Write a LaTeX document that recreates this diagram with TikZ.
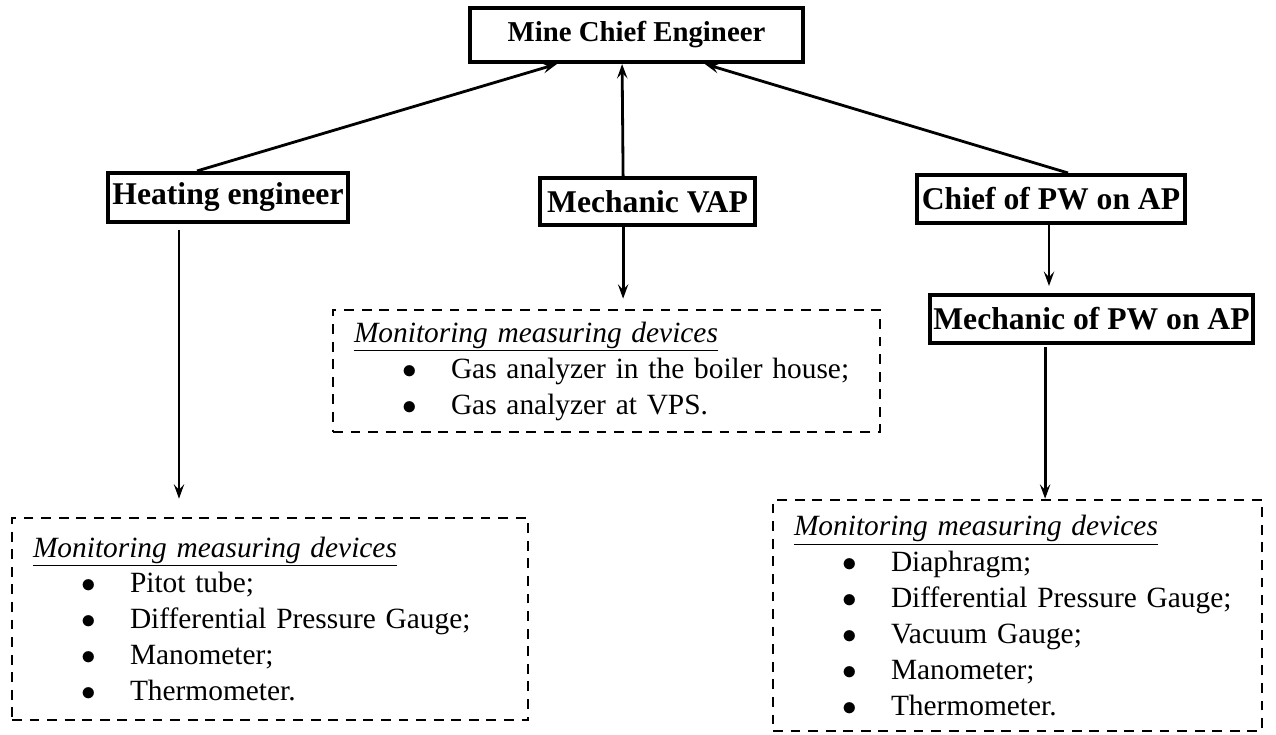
\documentclass[tikz,border=0pt]{standalone}
\usepackage{fontspec}
\setmainfont{Liberation Serif}
\usetikzlibrary{arrows.meta}

\tikzset{
  post/.style={draw,line width=2.9pt,inner sep=0pt,
    font=\fontsize{22.5}{26}\selectfont\bfseries},
  devices/.style={draw,line width=1.9pt,dash pattern=on 7pt off 5.5pt,
    align=left,inner xsep=0.525cm,inner ysep=0pt,
    font=\fontsize{20.9}{25.6}\selectfont},
  link/.style={->,line width=2pt}
}
\newcommand{\devhead}{\underline{\textit{Monitoring measuring devices}}}
\newcommand{\devitem}[1]{\\\hspace*{1.22cm}\makebox[1.205cm][l]{$\bullet$}#1}

\begin{document}
\begin{tikzpicture}[>={Stealth[length=3.6mm,width=2.6mm,inset=1.4mm]}]
  \useasboundingbox (0,0) rectangle (31.9,18.35);
  % posts
  \node[post,minimum width=8.325cm,minimum height=1.35cm,font=\fontsize{20.5}{24}\selectfont\bfseries]
    (boss) at (15.9125,17.475) {Mine Chief Engineer};
  \node[post,minimum width=6cm,minimum height=1.225cm] (heat) at (5.7,13.4125) {Heating engineer};
  \node[post,minimum width=5.375cm,minimum height=1.175cm] (vap) at (16.1875,13.3125) {Mechanic VAP};
  \node[post,minimum width=6.7cm,minimum height=1.2cm] (pwchief) at (26.275,13.375) {Chief of PW on AP};
  \node[post,minimum width=8.075cm,minimum height=1.2cm] (pwmech) at (27.2875,10.375) {Mechanic of PW on AP};

  % lists of devices
  \node[devices,text width=12.625cm,minimum height=3.05cm] (devvap) at (15.1625,9.075)
    {\devhead\devitem{Gas analyzer in the boiler house;}\devitem{Gas analyzer at VPS.}};
  \node[devices,text width=11.85cm,minimum height=5.05cm] (devheat) at (6.75,2.875)
    {\devhead\devitem{Pitot tube;}\devitem{Differential Pressure Gauge;}%
     \devitem{Manometer;}\devitem{Thermometer.}};
  \node[devices,text width=11.175cm,minimum height=5.775cm] (devpw) at (25.4375,2.96)
    {\devhead\devitem{Diaphragm;}\devitem{Differential Pressure Gauge;}%
     \devitem{Vacuum Gauge;}\devitem{Manometer;}\devitem{Thermometer.}};

  % up to the chief engineer
  \draw[link] ([xshift=-0.775cm]heat.north) -- ([xshift=-1.99cm]boss.south);
  \draw[link] ([xshift=-0.61cm]vap.north) -- ([xshift=-0.36cm]boss.south);
  \draw[link] ([xshift=0.425cm]pwchief.north) -- ([xshift=1.71cm]boss.south);

  % down to the devices
  \draw[link,shorten <=0.15cm,shorten >=0.45cm] ([xshift=-1.225cm]heat.south) -- ([xshift=-1.225cm]heat.south |- devheat.north);
  \draw[link,shorten >=0.25cm] ([xshift=-0.61cm]vap.south) -- ([xshift=-0.61cm]vap.south |- devvap.north);
  \draw[link,shorten >=0.175cm] ([xshift=-0.05cm]pwchief.south) -- ([xshift=-0.05cm]pwchief.south |- pwmech.north);
  \draw[link,shorten <=0.05cm] ([xshift=-1.16cm]pwmech.south) -- ([xshift=-1.16cm]pwmech.south |- devpw.north);
\end{tikzpicture}
\end{document}
